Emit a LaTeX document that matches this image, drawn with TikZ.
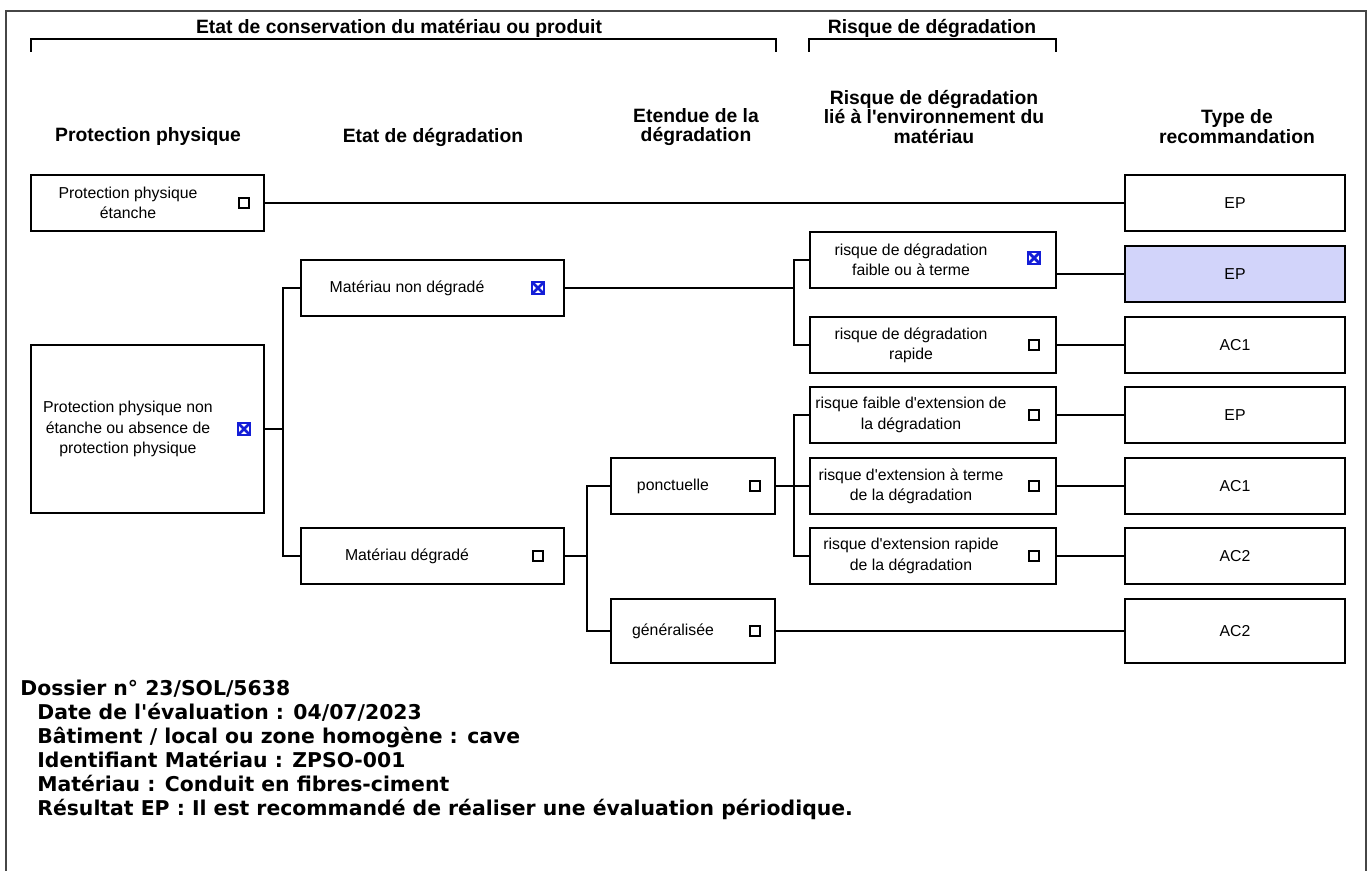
\documentclass[tikz,border=0pt]{standalone}
\usepackage{fontspec}
\setmainfont{Liberation Sans}
\newfontfamily\infofont{DejaVu Sans}
\definecolor{selfill}{RGB}{210,212,250}
\definecolor{xblue}{RGB}{20,30,215}
\definecolor{framegray}{RGB}{70,70,70}
\newcommand{\aq}{\textquotesingle}

\begin{document}
\begin{tikzpicture}[x=0.02cm,y=-0.02cm,
  crit node/.style={draw,line width=1.2pt,minimum height=1.12cm,inner sep=0pt},
  rec node/.style={crit node,minimum width=4.4cm,font=\fontsize{9}{11.5}\selectfont},
  crit text/.style={align=center,inner sep=0pt,font=\fontsize{9}{11.5}\selectfont},
  tick box/.style={draw,line width=0.6pt,minimum size=0.2cm,inner sep=0pt},
  cross box/.style={tick box,draw=xblue,minimum size=0.24cm,line width=0.9pt,
    path picture={\draw[xblue,line width=1.6pt]
      (path picture bounding box.south west) -- (path picture bounding box.north east)
      (path picture bounding box.north west) -- (path picture bounding box.south east);}},
  col title/.style={align=center,inner sep=0pt,font=\bfseries\fontsize{11}{11.3}\selectfont},
  link/.style={line width=1.1pt},
  info/.style={anchor=base west,inner sep=0pt,font=\infofont\bfseries\fontsize{11.6}{13.6}\selectfont}]

  \useasboundingbox (0,0) rectangle (1372,871);
  \fill[white] (0,0) rectangle (1372,871);

  % outer frame, open at the bottom
  \draw[framegray,line width=1.1pt] (6,890) |- (1366,11) -- (1366,890);

  % group brackets
  \draw[line width=1.3pt] (31,52) |- (776,39) -- (776,52);
  \draw[line width=1.3pt] (809,52) |- (1056,39) -- (1056,52);
  \node[col title] (t-etat) at (399,28) {Etat de conservation du matériau ou produit};
  \node[col title] (t-risque) at (932,28) {Risque de dégradation};

  % column titles
  \node[col title] (h-prot) at (148,137) {Protection physique};
  \node[col title] (h-etat) at (433,137) {Etat de dégradation};
  \node[col title] (h-etendue) at (696,127) {Etendue de la\\dégradation};
  \node[col title] (h-risque) at (934,117) {Risque de dégradation\\lié à l\aq environnement du\\matériau};
  \node[col title] (h-type) at (1237,127) {Type de\\recommandation};

  % protection physique
  \node[crit node,minimum width=4.66cm] (ppe) at (147.5,203) {};
  \node[crit text] (ppe-t) at (128,203) {Protection physique\\étanche};
  \node[tick box] (ppe-c) at (244,203) {};
  \node[crit node,minimum width=4.66cm,minimum height=3.36cm] (ppne) at (147.5,429) {};
  \node[crit text] (ppne-t) at (128,429) {Protection physique non\\étanche ou absence de\\protection physique};
  \node[cross box] (ppne-c) at (244,429) {};

  % etat de degradation
  \node[crit node,minimum width=5.26cm] (mnd) at (432.5,288) {};
  \node[crit text] (mnd-t) at (407,288) {Matériau non dégradé};
  \node[cross box] (mnd-c) at (538,288) {};
  \node[crit node,minimum width=5.26cm] (md) at (432.5,556) {};
  \node[crit text] (md-t) at (407,556) {Matériau dégradé};
  \node[tick box] (md-c) at (538,556) {};

  % etendue
  \node[crit node,minimum width=3.28cm] (pon) at (693,486) {};
  \node[crit text] (pon-t) at (673,486) {ponctuelle};
  \node[tick box] (pon-c) at (755,486) {};
  \node[crit node,minimum width=3.28cm,minimum height=1.28cm] (gen) at (693,631) {};
  \node[crit text] (gen-t) at (673,631) {généralisée};
  \node[tick box] (gen-c) at (755,631) {};

  % risque
  \node[crit node,minimum width=4.92cm] (r1) at (933,260) {};
  \node[crit text] (r1-t) at (911,260) {risque de dégradation\\faible ou à terme};
  \node[cross box] (r1-c) at (1034,258) {};
  \node[crit node,minimum width=4.92cm] (r2) at (933,345) {};
  \node[crit text] (r2-t) at (911,345) {risque de dégradation\\rapide};
  \node[tick box] (r2-c) at (1034,345) {};
  \node[crit node,minimum width=4.92cm] (r3) at (933,415) {};
  \node[crit text] (r3-t) at (911,415) {risque faible d\aq extension de\\la dégradation};
  \node[tick box] (r3-c) at (1034,415) {};
  \node[crit node,minimum width=4.92cm] (r4) at (933,486) {};
  \node[crit text] (r4-t) at (911,486) {risque d\aq extension à terme\\de la dégradation};
  \node[tick box] (r4-c) at (1034,486) {};
  \node[crit node,minimum width=4.92cm] (r5) at (933,556) {};
  \node[crit text] (r5-t) at (911,556) {risque d\aq extension rapide\\de la dégradation};
  \node[tick box] (r5-c) at (1034,556) {};

  % recommandations
  \node[rec node] (ep1) at (1235,203) {EP};
  \node[rec node,fill=selfill] (ep2) at (1235,274) {EP};
  \node[rec node] (ac1a) at (1235,345) {AC1};
  \node[rec node] (ep3) at (1235,415) {EP};
  \node[rec node] (ac1b) at (1235,486) {AC1};
  \node[rec node] (ac2a) at (1235,556) {AC2};
  \node[rec node,minimum height=1.28cm] (ac2b) at (1235,631) {AC2};

  % branches
  \coordinate (jA) at (283,429);
  \coordinate (jB) at (794,288);
  \coordinate (jC) at (587,556);
  \coordinate (jD) at (794,486);
  \path[link]
    (ppe.east) edge (ep1.west)
    (ppne.east) edge (jA)
    (mnd.east) edge (jB)
    (md.east) edge (jC)
    (pon.east) edge (r4.west)
    (r1.east |- ep2.west) edge (ep2.west)
    (r2.east) edge (ac1a.west)
    (r3.east) edge (ep3.west)
    (r4.east) edge (ac1b.west)
    (r5.east) edge (ac2a.west)
    (gen.east) edge (ac2b.west);
  \draw[link] (mnd.west) -| (jA) |- (md.west);
  \draw[link] (r1.west) -| (jB) |- (r2.west);
  \draw[link] (pon.west) -| (jC) |- (gen.west);
  \draw[link] (r3.west) -| (jD) |- (r5.west);

  % dossier
  \node[info] (i-dossier) at (20,695) {Dossier n° 23/SOL/5638};
  \node[info] (i-date) at (37,719) {Date de l\aq évaluation : 04/07/2023};
  \node[info] (i-bat) at (37,743) {Bâtiment / local ou zone homogène : cave};
  \node[info] (i-id) at (37,767) {Identifiant Matériau : ZPSO-001};
  \node[info] (i-mat) at (37,791) {Matériau : Conduit en fibres-ciment};
  \node[info] (i-res) at (37,815) {Résultat EP : Il est recommandé de réaliser une évaluation périodique.};
\end{tikzpicture}
\end{document}
